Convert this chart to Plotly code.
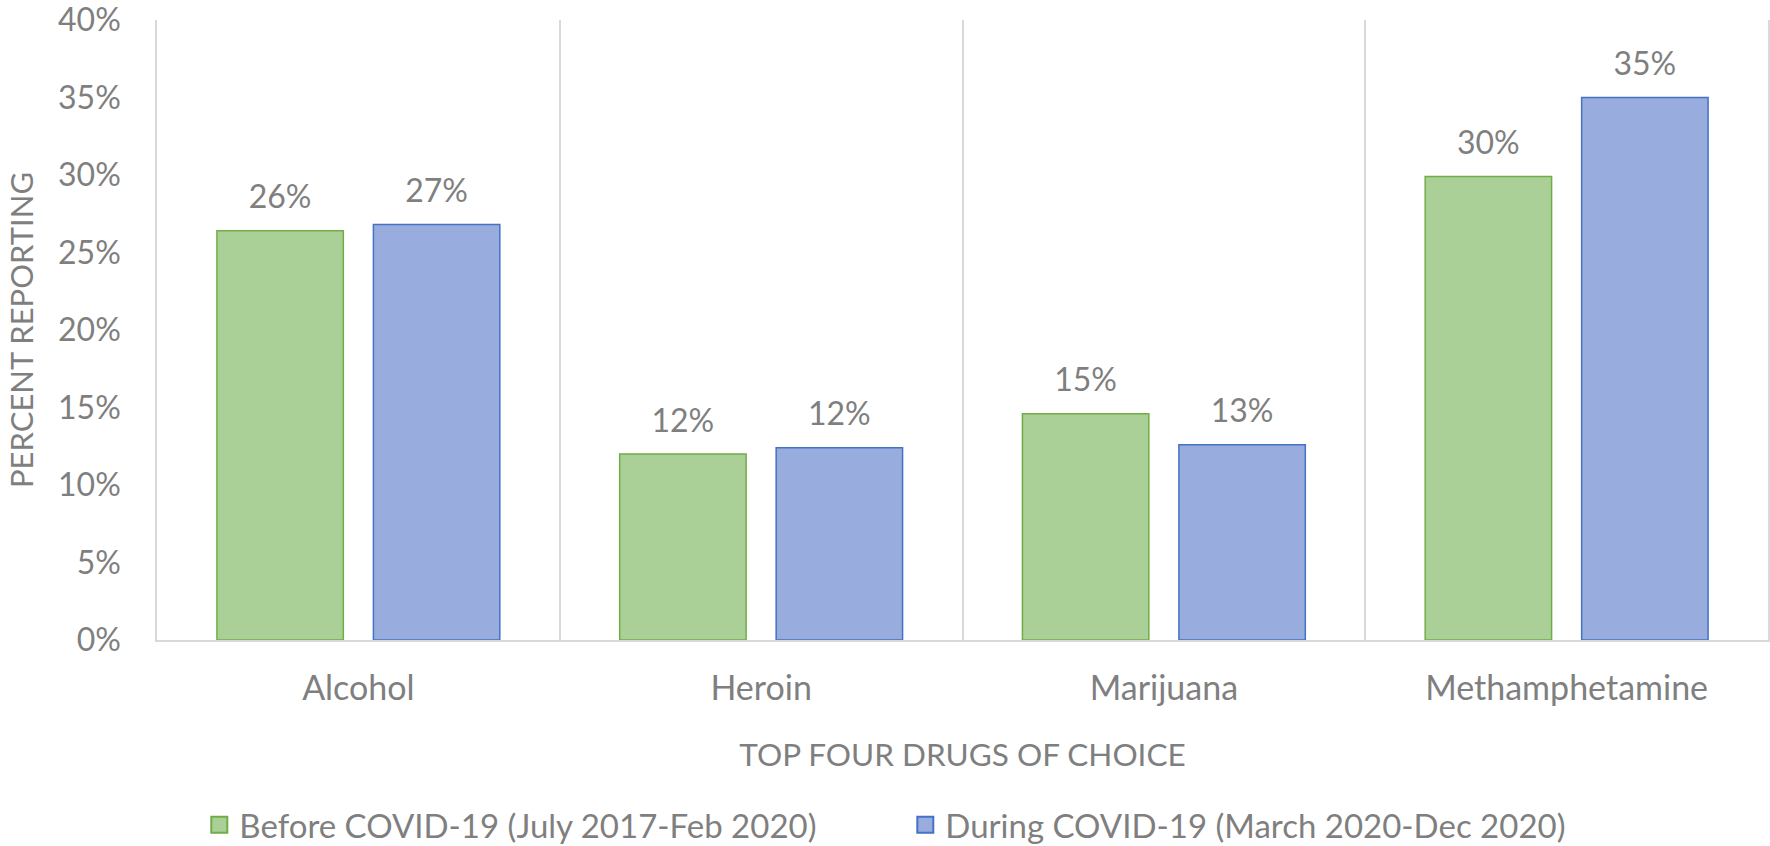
import plotly.graph_objects as go

categories = ["Alcohol", "Heroin", "Marijuana", "Methamphetamine"]
before_covid = [26.4, 12.0, 14.6, 29.9]
during_covid = [26.8, 12.4, 12.6, 35.0]
series_names = ["Before COVID-19 (July 2017-Feb 2020)", "During COVID-19 (March 2020-Dec 2020)"]
y_ticks = [0, 5, 10, 15, 20, 25, 30, 35, 40]

FONT = "Lato"
GRAY = "#7f7f7f"
GRID = "#d9d9d9"
Y_RANGE = [0, 40]
LABEL_LIFT = 0.8  # extra gap (in axis units) between bar top and its data label

fills = ["#aad098", "#98acdd"]
edges = ["#70ad47", "#4472c4"]
series = [before_covid, during_covid]

fig = go.Figure()
for name, vals, fc, ec in zip(series_names, series, fills, edges):
    fig.add_trace(go.Bar(
        x=categories, y=vals, name=name, showlegend=False,
        marker=dict(color=fc, line=dict(color=ec, width=1.5)),
        hoverinfo="skip",
    ))
# data labels: same bars on a slightly shifted overlay axis, drawn transparent
for name, vals in zip(series_names, series):
    fig.add_trace(go.Bar(
        x=categories, y=vals, name=name, yaxis="y2", showlegend=False,
        marker=dict(color="rgba(0,0,0,0)", line=dict(width=0)),
        texttemplate="%{y:.0f}%", textposition="outside", cliponaxis=False,
        textfont=dict(family=FONT, size=32, color=GRAY), hoverinfo="skip",
    ))
# legend entries with larger square swatches
for name, fc, ec in zip(series_names, fills, edges):
    fig.add_trace(go.Scatter(
        x=[None], y=[None], mode="markers", name=name,
        marker=dict(symbol="square", size=21, color=fc, line=dict(color=ec, width=2)),
    ))

fig.update_layout(
    width=1770, height=846,
    paper_bgcolor="white", plot_bgcolor="white",
    margin=dict(l=157, r=2, t=20, b=206, autoexpand=False),
    barmode="group", bargap=0.223, bargroupgap=0.192,
    font=dict(family=FONT, color=GRAY, size=32),
    showlegend=True,
    legend=dict(orientation="h", xref="container", yref="container",
                x=0.1126, xanchor="left", y=0.025, yanchor="middle",
                font=dict(size=33, color=GRAY),
                entrywidth=661, itemwidth=30, tracegroupgap=0),
    xaxis=dict(
        type="category", range=[-0.5, len(categories) - 0.5],
        tickson="boundaries", showgrid=True, gridcolor=GRID, gridwidth=1.5,
        showline=True, linecolor=GRID, linewidth=1.5, ticks="", ticklabelstandoff=17,
        tickfont=dict(size=34, color=GRAY), automargin=False,
        title=dict(text="TOP FOUR DRUGS OF CHOICE", font=dict(size=31.5, color=GRAY), standoff=38),
    ),
    yaxis=dict(
        range=Y_RANGE, tickvals=y_ticks, ticktext=[f"{v}%" for v in y_ticks],
        showgrid=False, zeroline=False, showline=True, mirror=True,
        linecolor=GRID, linewidth=1.5, ticks="", automargin=False,
        ticklabelstandoff=28, ticklabeloverflow="allow", tickfont=dict(size=32, color=GRAY),
        title=dict(text="PERCENT REPORTING", font=dict(size=31, color=GRAY), standoff=15),
    ),
    yaxis2=dict(
        overlaying="y", visible=False,
        range=[Y_RANGE[0] - LABEL_LIFT, Y_RANGE[1] - LABEL_LIFT],
    ),
)

fig.write_html("out.html", config={"displayModeBar": False},
               post_script="document.body.style.margin='0';")
